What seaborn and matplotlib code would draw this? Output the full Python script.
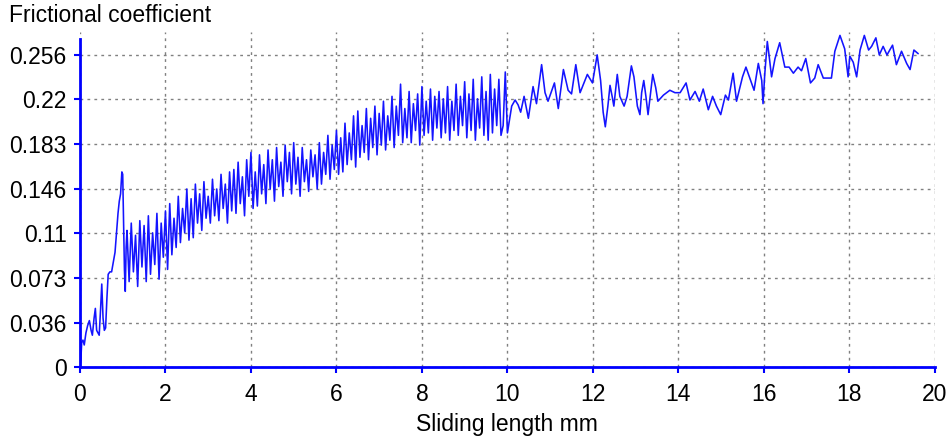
import numpy as np
import pandas as pd
import matplotlib
matplotlib.use("Agg")
import matplotlib.pyplot as plt
import seaborn as sns

# running-in part (0 - 1.08 mm)
x_start = [0.00, 0.02, 0.04, 0.07, 0.10, 0.14, 0.18, 0.22, 0.26, 0.29, 0.33, 0.36,
           0.39, 0.42, 0.45, 0.48, 0.51, 0.54, 0.57, 0.60, 0.63, 0.66, 0.70, 0.74,
           0.78, 0.82, 0.86, 0.89, 0.92, 0.95, 0.98, 1.00, 1.02, 1.04, 1.06, 1.08]
mu_start = [0.000, 0.005, 0.020, 0.022, 0.018, 0.028, 0.034, 0.038, 0.030, 0.026, 0.040, 0.048,
            0.030, 0.028, 0.026, 0.046, 0.068, 0.040, 0.030, 0.032, 0.056, 0.076, 0.078, 0.078,
            0.086, 0.094, 0.112, 0.126, 0.136, 0.142, 0.160, 0.158, 0.120, 0.080, 0.062, 0.098]

# dense stick-slip part (1.10 - 9.95 mm)
x_dense = [1.10, 1.15, 1.20, 1.25, 1.30, 1.35, 1.40, 1.45, 1.50, 1.55,
           1.60, 1.65, 1.70, 1.75, 1.80, 1.85, 1.90, 1.95, 2.00, 2.05,
           2.10, 2.15, 2.20, 2.25, 2.30, 2.35, 2.40, 2.45, 2.50, 2.55,
           2.60, 2.65, 2.70, 2.75, 2.80, 2.85, 2.90, 2.95, 3.00, 3.05,
           3.10, 3.15, 3.20, 3.25, 3.30, 3.35, 3.40, 3.45, 3.50, 3.55,
           3.60, 3.65, 3.70, 3.75, 3.80, 3.85, 3.90, 3.95, 4.00, 4.05,
           4.10, 4.15, 4.20, 4.25, 4.30, 4.35, 4.40, 4.45, 4.50, 4.55,
           4.60, 4.65, 4.70, 4.75, 4.80, 4.85, 4.90, 4.95, 5.00, 5.05,
           5.10, 5.15, 5.20, 5.25, 5.30, 5.35, 5.40, 5.45, 5.50, 5.55,
           5.60, 5.65, 5.70, 5.75, 5.80, 5.85, 5.90, 5.95, 6.00, 6.05,
           6.10, 6.15, 6.20, 6.25, 6.30, 6.35, 6.40, 6.45, 6.50, 6.55,
           6.60, 6.65, 6.70, 6.75, 6.80, 6.85, 6.90, 6.95, 7.00, 7.05,
           7.10, 7.15, 7.20, 7.25, 7.30, 7.35, 7.40, 7.45, 7.50, 7.55,
           7.60, 7.65, 7.70, 7.75, 7.80, 7.85, 7.90, 7.95, 8.00, 8.05,
           8.10, 8.15, 8.20, 8.25, 8.30, 8.35, 8.40, 8.45, 8.50, 8.55,
           8.60, 8.65, 8.70, 8.75, 8.80, 8.85, 8.90, 8.95, 9.00, 9.05,
           9.10, 9.15, 9.20, 9.25, 9.30, 9.35, 9.40, 9.45, 9.50, 9.55,
           9.60, 9.65, 9.70, 9.75, 9.80, 9.85, 9.90, 9.95]
mu_dense = [0.112, 0.070, 0.118, 0.078, 0.108, 0.066, 0.120, 0.082, 0.116, 0.070,
            0.124, 0.076, 0.110, 0.084, 0.126, 0.072, 0.118, 0.090, 0.128, 0.080,
            0.134, 0.092, 0.122, 0.098, 0.140, 0.102, 0.130, 0.110, 0.146, 0.104,
            0.138, 0.106, 0.150, 0.118, 0.142, 0.112, 0.152, 0.122, 0.140, 0.118,
            0.154, 0.124, 0.146, 0.120, 0.158, 0.130, 0.150, 0.118, 0.160, 0.128,
            0.162, 0.126, 0.168, 0.134, 0.156, 0.124, 0.170, 0.140, 0.176, 0.130,
            0.160, 0.132, 0.174, 0.142, 0.166, 0.134, 0.178, 0.146, 0.170, 0.136,
            0.180, 0.148, 0.168, 0.140, 0.182, 0.152, 0.176, 0.142, 0.184, 0.150,
            0.172, 0.140, 0.180, 0.152, 0.170, 0.144, 0.178, 0.156, 0.174, 0.146,
            0.184, 0.150, 0.176, 0.158, 0.190, 0.154, 0.182, 0.162, 0.194, 0.158,
            0.188, 0.160, 0.200, 0.166, 0.192, 0.170, 0.206, 0.164, 0.210, 0.172,
            0.198, 0.176, 0.212, 0.170, 0.204, 0.180, 0.214, 0.174, 0.208, 0.182,
            0.218, 0.178, 0.206, 0.186, 0.222, 0.180, 0.214, 0.190, 0.232, 0.184,
            0.212, 0.188, 0.226, 0.184, 0.216, 0.194, 0.224, 0.182, 0.230, 0.190,
            0.218, 0.192, 0.228, 0.186, 0.222, 0.196, 0.226, 0.188, 0.220, 0.192,
            0.230, 0.186, 0.218, 0.194, 0.232, 0.190, 0.222, 0.198, 0.234, 0.188,
            0.224, 0.194, 0.236, 0.186, 0.220, 0.196, 0.238, 0.190, 0.226, 0.186,
            0.240, 0.192, 0.228, 0.198, 0.236, 0.190, 0.198, 0.242]

# steady part (10 - 19.6 mm)
x_end = [10.00, 10.10, 10.18, 10.25, 10.31, 10.39, 10.49, 10.60, 10.68, 10.80, 10.88, 10.95,
         11.10, 11.19, 11.31, 11.42, 11.50, 11.60, 11.70, 11.87, 11.99, 12.10, 12.18, 12.24,
         12.29, 12.35, 12.40, 12.45, 12.49, 12.57, 12.63, 12.73, 12.80, 12.90, 12.96, 13.04,
         13.10, 13.14, 13.19, 13.24, 13.29, 13.34, 13.40, 13.47, 13.52, 13.65, 13.80, 13.92,
         14.04, 14.18, 14.27, 14.39, 14.49, 14.58, 14.70, 14.80, 14.89, 14.99, 15.10, 15.17,
         15.28, 15.36, 15.50, 15.58, 15.67, 15.77, 15.87, 15.95, 15.98, 16.02, 16.08, 16.12,
         16.18, 16.26, 16.37, 16.49, 16.59, 16.69, 16.80, 16.88, 16.98, 17.09, 17.19, 17.27,
         17.39, 17.58, 17.66, 17.78, 17.89, 17.97, 18.01, 18.09, 18.17, 18.25, 18.35, 18.45,
         18.52, 18.62, 18.70, 18.79, 18.88, 19.01, 19.10, 19.22, 19.34, 19.42, 19.51, 19.61]
mu_end = [0.192, 0.214, 0.219, 0.215, 0.209, 0.222, 0.204, 0.230, 0.216, 0.248, 0.225, 0.218,
          0.233, 0.212, 0.244, 0.227, 0.224, 0.248, 0.225, 0.240, 0.233, 0.256, 0.235, 0.209,
          0.197, 0.214, 0.231, 0.222, 0.214, 0.240, 0.222, 0.214, 0.222, 0.247, 0.238, 0.214,
          0.207, 0.225, 0.235, 0.222, 0.207, 0.222, 0.240, 0.229, 0.218, 0.223, 0.227, 0.225,
          0.225, 0.233, 0.219, 0.226, 0.218, 0.228, 0.211, 0.222, 0.214, 0.207, 0.223, 0.219,
          0.241, 0.218, 0.238, 0.246, 0.237, 0.227, 0.249, 0.235, 0.216, 0.240, 0.267, 0.256,
          0.238, 0.253, 0.266, 0.246, 0.246, 0.241, 0.246, 0.243, 0.253, 0.233, 0.237, 0.248,
          0.237, 0.237, 0.259, 0.272, 0.261, 0.238, 0.255, 0.250, 0.238, 0.260, 0.272, 0.260,
          0.263, 0.270, 0.256, 0.263, 0.256, 0.264, 0.248, 0.259, 0.249, 0.244, 0.260, 0.257]

x_ticks = [0, 2, 4, 6, 8, 10, 12, 14, 16, 18, 20]
y_ticks = [0, 0.036, 0.073, 0.11, 0.146, 0.183, 0.22, 0.256]
y_labels = ["0", "0.036", "0.073", "0.11", "0.146", "0.183", "0.22", "0.256"]

df = pd.DataFrame({"length": x_start + x_dense + x_end,
                   "mu": mu_start + mu_dense + mu_end})

sns.set_style("white")
plt.rcParams["font.family"] = ["Liberation Sans", "DejaVu Sans"]
plt.rcParams["text.color"] = "black"
plt.rcParams["axes.labelcolor"] = "black"
blue = "#0000ff"

fig = plt.figure(figsize=(9.52, 4.41), dpi=100)
ax = fig.add_axes([0.084, 0.168, 0.898, 0.760])
sns.lineplot(data=df, x="length", y="mu", estimator=None, sort=False,
             color="#1414ff", linewidth=1.15, ax=ax)

ax.set_xlim(0, 20)
ax.set_ylim(0, 0.275)
ax.set_xticks(x_ticks)
ax.set_yticks(y_ticks)
ax.set_yticklabels(y_labels)
ax.grid(True, color="#808080", linestyle=(0, (2, 3)), linewidth=1.0)
for s in ["top", "right"]:
    ax.spines[s].set_visible(False)
for s in ["left", "bottom"]:
    ax.spines[s].set_color(blue)
    ax.spines[s].set_linewidth(2)
ax.spines["left"].set_bounds(0, 0.269)
ax.tick_params(axis="both", colors=blue, labelcolor="black", labelsize=16.5,
               length=4.5, width=1.5, direction="out", left=True, bottom=True)
ax.tick_params(axis="y", pad=5)
ax.tick_params(axis="x", pad=7)
ax.set_xlabel("Sliding length mm", fontsize=16.5, labelpad=5, color="black")
ax.set_ylabel("")
fig.text(0.009, 0.938, "Frictional coefficient", fontsize=16.5, ha="left", va="bottom",
         color="black")

plt.savefig("out.png", dpi=100)
